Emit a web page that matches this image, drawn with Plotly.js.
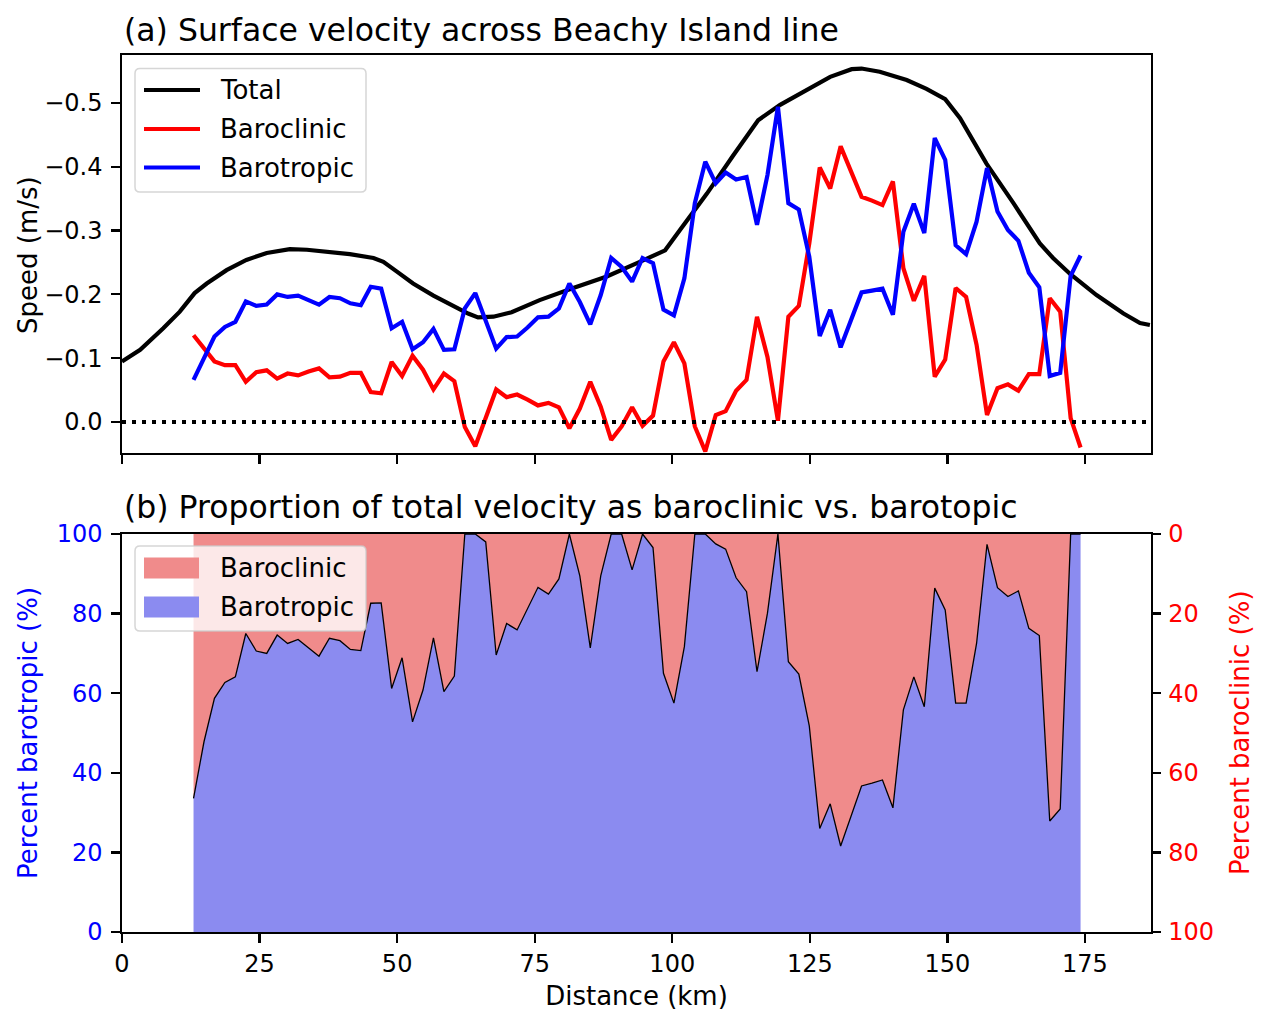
<!DOCTYPE html>
<html>
<head>
<meta charset="utf-8">
<script src="https://cdn.plot.ly/plotly-3.0.1.min.js"></script>
<style>
  html, body { margin: 0; padding: 0; background: #fff; }
  #chart { width: 1269px; height: 1025px; }
</style>
</head>
<body>
<div id="chart"></div>
<script>
////////////////////////////////////////////////////////////////////////////////
//   Surface velocity across the Beachy Island line, split into baroclinic
//   and barotropic parts (top), and the share of each part (bottom).
////////////////////////////////////////////////////////////////////////////////

// Distance of each profile station along the line (km)
const distance = [
  13.0, 14.9, 16.8, 18.7, 20.6, 22.5, 24.4, 26.3, 28.2, 30.1,
  32.0, 33.9, 35.8, 37.7, 39.6, 41.5, 43.4, 45.2, 47.1, 49.0,
  50.9, 52.8, 54.7, 56.6, 58.5, 60.4, 62.3, 64.2, 66.1, 68.0,
  69.9, 71.8, 73.7, 75.6, 77.5, 79.4, 81.3, 83.2, 85.1, 87.0,
  88.9, 90.8, 92.7, 94.6, 96.5, 98.4, 100.3, 102.2, 104.1, 106.0,
  107.9, 109.7, 111.6, 113.5, 115.4, 117.3, 119.2, 121.1, 123.0, 124.9,
  126.8, 128.7, 130.6, 132.5, 134.4, 136.3, 138.2, 140.1, 142.0, 143.9,
  145.8, 147.7, 149.6, 151.5, 153.4, 155.3, 157.2, 159.1, 161.0, 162.9,
  164.8, 166.7, 168.6, 170.5, 172.4, 174.2
];

// Baroclinic surface speed (m/s)
const baroclinic = [
  -0.136, -0.115, -0.095, -0.089, -0.089, -0.063, -0.078, -0.081, -0.068, -0.076,
  -0.073, -0.079, -0.084, -0.070, -0.071, -0.077, -0.077, -0.047, -0.045, -0.094,
  -0.072, -0.104, -0.082, -0.051, -0.076, -0.064, 0.008, 0.038, -0.008, -0.051,
  -0.039, -0.043, -0.035, -0.026, -0.030, -0.023, 0.010, -0.021, -0.063, -0.024,
  0.028, 0.007, -0.023, 0.006, -0.010, -0.095, -0.125, -0.092, 0.007, 0.046,
  -0.011, -0.017, -0.049, -0.066, -0.165, -0.102, -0.002, -0.165, -0.182, -0.280,
  -0.399, -0.366, -0.432, -0.391, -0.353, -0.347, -0.340, -0.377, -0.241, -0.190,
  -0.229, -0.071, -0.098, -0.210, -0.196, -0.121, -0.011, -0.053, -0.059, -0.049,
  -0.075, -0.075, -0.194, -0.173, -0.006, 0.040
];

// Barotropic surface speed (m/s)
const barotropic = [
  -0.066, -0.100, -0.134, -0.149, -0.157, -0.189, -0.182, -0.184, -0.200, -0.196,
  -0.198, -0.191, -0.184, -0.196, -0.194, -0.186, -0.183, -0.212, -0.209, -0.147,
  -0.157, -0.114, -0.125, -0.146, -0.113, -0.114, -0.178, -0.202, -0.160, -0.115,
  -0.133, -0.134, -0.148, -0.164, -0.165, -0.178, -0.217, -0.188, -0.153, -0.199,
  -0.257, -0.243, -0.220, -0.257, -0.249, -0.176, -0.167, -0.225, -0.343, -0.408,
  -0.374, -0.391, -0.380, -0.384, -0.309, -0.387, -0.494, -0.343, -0.333, -0.259,
  -0.135, -0.176, -0.117, -0.160, -0.203, -0.206, -0.209, -0.168, -0.298, -0.342,
  -0.296, -0.445, -0.411, -0.277, -0.263, -0.314, -0.398, -0.330, -0.301, -0.284,
  -0.234, -0.211, -0.072, -0.077, -0.229, -0.261
];

// Share of the total that is barotropic (%)
const barotropicPct = [
  33.6, 47.8, 58.7, 62.7, 64.1, 75.0, 70.6, 70.0, 74.6, 72.5,
  73.5, 71.4, 69.3, 73.8, 73.2, 71.0, 70.7, 82.6, 82.7, 61.2,
  68.9, 52.8, 60.8, 73.9, 60.4, 64.3, 100, 100, 98.0, 69.6,
  77.5, 75.9, 81.3, 86.6, 84.9, 88.7, 100, 89.5, 71.4, 89.5,
  100, 100, 91.0, 100, 96.6, 65.0, 57.5, 71.7, 100, 100,
  97.5, 96.2, 89.0, 85.5, 65.4, 80.1, 100, 67.9, 64.8, 51.8,
  26.0, 32.2, 21.6, 29.4, 36.7, 37.4, 38.2, 31.2, 55.8, 64.1,
  56.6, 86.4, 80.9, 57.5, 57.5, 72.5, 97.4, 86.5, 84.3, 85.7,
  76.3, 74.5, 27.9, 30.9, 100, 100
];

// Total surface speed, finer along the whole line
const totalDistance = [
  0.0, 3.3, 7.5, 10.5, 13.2, 15.4, 19.0, 22.6, 26.3, 30.5,
  33.6, 37.2, 41.4, 45.7, 47.5, 49.9, 52.9, 56.6, 60.2, 62.9,
  64.7, 67.5, 70.8, 75.9, 82.0, 88.1, 94.1, 98.7, 101.4, 106.3,
  111.1, 115.6, 119.6, 124.4, 128.7, 132.6, 134.4, 137.7, 142.6, 146.2,
  149.6, 152.3, 157.1, 162.0, 166.8, 169.2, 172.3, 177.1, 182.0, 185.0,
  186.8
];
const totalSpeed = [
  -0.095, -0.113, -0.147, -0.173, -0.202, -0.217, -0.238, -0.254, -0.265, -0.271,
  -0.270, -0.267, -0.263, -0.257, -0.251, -0.236, -0.217, -0.198, -0.181, -0.170,
  -0.164, -0.165, -0.172, -0.191, -0.210, -0.228, -0.251, -0.269, -0.301, -0.358,
  -0.418, -0.473, -0.497, -0.521, -0.541, -0.553, -0.554, -0.549, -0.536, -0.522,
  -0.506, -0.476, -0.405, -0.343, -0.280, -0.257, -0.232, -0.199, -0.170, -0.155,
  -0.152
];

const speedTicks = [-0.5, -0.4, -0.3, -0.2, -0.1, 0.0];
const pctTicks = [0, 20, 40, 60, 80, 100];
const distTicks = [0, 25, 50, 75, 100, 125, 150, 175];

// baroclinic share is the rest of the total, read on the reversed right axis
const baroclinicPct = barotropicPct.map(p => 100 - p);

const FONT = 'DejaVu Sans';
const LW = 4.2;
const RED = '#ff0000', BLUE = '#0000ff';
const RED_FILL = '#f08b8b', BLUE_FILL = '#8b8bf0';

// plot area in pixels, used to place the hand-drawn legends and titles
const PL = 122, PR = 1151, PT = 55, PB = 932;
const px = x => (x - PL) / (PR - PL);
const py = y => (PB - y) / (PB - PT);

const data = [
  { x: totalDistance, y: totalSpeed, name: 'Total', type: 'scatter', mode: 'lines',
    line: { color: 'black', width: LW }, xaxis: 'x', yaxis: 'y' },
  { x: distance, y: baroclinic, name: 'Baroclinic', type: 'scatter', mode: 'lines',
    line: { color: RED, width: LW }, xaxis: 'x', yaxis: 'y' },
  { x: distance, y: barotropic, name: 'Barotropic', type: 'scatter', mode: 'lines',
    line: { color: BLUE, width: LW }, xaxis: 'x', yaxis: 'y' },

  { x: distance, y: baroclinicPct, name: 'Baroclinic', type: 'scatter', mode: 'lines',
    fill: 'tozeroy', fillcolor: RED_FILL, line: { width: 0 }, xaxis: 'x2', yaxis: 'y3' },
  { x: distance, y: barotropicPct, name: 'Barotropic', type: 'scatter', mode: 'lines',
    fill: 'tozeroy', fillcolor: BLUE_FILL, line: { width: 0 }, xaxis: 'x2', yaxis: 'y2' },
  { x: distance, y: baroclinicPct, type: 'scatter', mode: 'lines',
    line: { color: 'black', width: 1.3 }, xaxis: 'x2', yaxis: 'y3' }
];

const axisBase = {
  showline: true, linecolor: 'black', linewidth: 2.2, mirror: true,
  ticks: 'outside', ticklen: 8.5, tickwidth: 2.2, tickcolor: 'black',
  showgrid: false, zeroline: false,
  tickfont: { family: FONT, size: 24, color: 'black' }
};

// rounded legend frame (pixel coords -> paper path)
function legendFrame(x0, y0, x1, y1, r) {
  const X = v => px(v).toFixed(5), Y = v => py(v).toFixed(5);
  const d = `M${X(x0 + r)},${Y(y0)} L${X(x1 - r)},${Y(y0)} Q${X(x1)},${Y(y0)} ${X(x1)},${Y(y0 + r)} ` +
    `L${X(x1)},${Y(y1 - r)} Q${X(x1)},${Y(y1)} ${X(x1 - r)},${Y(y1)} ` +
    `L${X(x0 + r)},${Y(y1)} Q${X(x0)},${Y(y1)} ${X(x0)},${Y(y1 - r)} ` +
    `L${X(x0)},${Y(y0 + r)} Q${X(x0)},${Y(y0)} ${X(x0 + r)},${Y(y0)} Z`;
  return { type: 'path', xref: 'paper', yref: 'paper', path: d, layer: 'above',
    fillcolor: 'rgba(255,255,255,0.8)', line: { color: 'rgba(204,204,204,0.8)', width: 1.5 } };
}
function legendLine(y, color) {
  return { type: 'line', xref: 'paper', yref: 'paper', layer: 'above',
    x0: px(144), x1: px(200), y0: py(y), y1: py(y), line: { color: color, width: LW } };
}
function legendPatch(y, color) {
  return { type: 'rect', xref: 'paper', yref: 'paper', layer: 'above',
    x0: px(144), x1: px(199), y0: py(y - 10.5), y1: py(y + 10.5),
    fillcolor: color, line: { width: 0 } };
}
function legendText(y, text) {
  return { text: text, xref: 'paper', yref: 'paper', x: px(218), y: py(y),
    xanchor: 'left', yanchor: 'middle', showarrow: false,
    font: { family: FONT, size: 26, color: 'black' } };
}
function sideTitle(x, y, text, color, angle) {
  return { text: text, xref: 'paper', yref: 'paper', x: px(x), y: py(y),
    xanchor: 'center', yanchor: 'middle', showarrow: false, textangle: angle,
    font: { family: FONT, size: 26, color: color } };
}

const layout = {
  width: 1269,
  height: 1025,
  margin: { l: PL, r: 1269 - PR, t: PT, b: 1025 - PB },
  paper_bgcolor: 'white',
  plot_bgcolor: 'white',
  showlegend: false,
  font: { family: FONT, size: 26, color: 'black' },
  xaxis: Object.assign({}, axisBase, {
    domain: [0, 1], anchor: 'y', range: [0, 187], tickvals: distTicks, showticklabels: false
  }),
  yaxis: Object.assign({}, axisBase, {
    domain: [py(453), 1], anchor: 'x', range: [0.0486, -0.5752],
    tickvals: speedTicks, tickformat: '.1f', ticklabelstandoff: 4
  }),
  xaxis2: Object.assign({}, axisBase, {
    domain: [0, 1], anchor: 'y2', range: [0, 187], tickvals: distTicks,
    title: { text: 'Distance (km)', font: { family: FONT, size: 26 }, standoff: 10 }
  }),
  yaxis2: Object.assign({}, axisBase, {
    domain: [0, py(534)], anchor: 'x2', range: [0, 100], tickvals: pctTicks, ticklabelstandoff: 4,
    tickfont: { family: FONT, size: 24, color: BLUE }
  }),
  yaxis3: Object.assign({}, axisBase, {
    overlaying: 'y2', side: 'right', anchor: 'x2', range: [100, 0], tickvals: pctTicks,
    showline: false, mirror: false, ticklabelstandoff: 3,
    tickfont: { family: FONT, size: 24, color: RED }
  }),
  shapes: [
    // zero reference across the top panel
    { type: 'line', xref: 'x domain', x0: 0, x1: 1, yref: 'y', y0: 0, y1: 0,
      line: { color: 'black', width: 4, dash: '4px,6px' } },

    legendFrame(135, 68.5, 366, 192, 5),
    legendLine(90, 'black'),
    legendLine(129, RED),
    legendLine(167.5, BLUE),

    legendFrame(135, 546, 366, 631, 5),
    legendPatch(568, RED_FILL),
    legendPatch(607, BLUE_FILL)
  ],
  annotations: [
    { text: '(a) Surface velocity across Beachy Island line', xref: 'paper', yref: 'paper',
      x: 0, y: py(30), xanchor: 'left', yanchor: 'middle', showarrow: false,
      font: { family: FONT, size: 31.5, color: 'black' } },
    { text: '(b) Proportion of total velocity as baroclinic vs. barotopic', xref: 'paper', yref: 'paper',
      x: 0, y: py(507), xanchor: 'left', yanchor: 'middle', showarrow: false,
      font: { family: FONT, size: 31.5, color: 'black' } },
    sideTitle(28, 255, 'Speed (m/s)', 'black', -90),
    sideTitle(28, 733, 'Percent barotropic (%)', BLUE, -90),
    sideTitle(1240, 733, 'Percent baroclinic (%)', RED, -90),
    legendText(90, 'Total'),
    legendText(129, 'Baroclinic'),
    legendText(167.5, 'Barotropic'),
    legendText(568, 'Baroclinic'),
    legendText(607, 'Barotropic')
  ]
};

Plotly.newPlot('chart', data, layout, { staticPlot: true });
</script>
</body>
</html>
